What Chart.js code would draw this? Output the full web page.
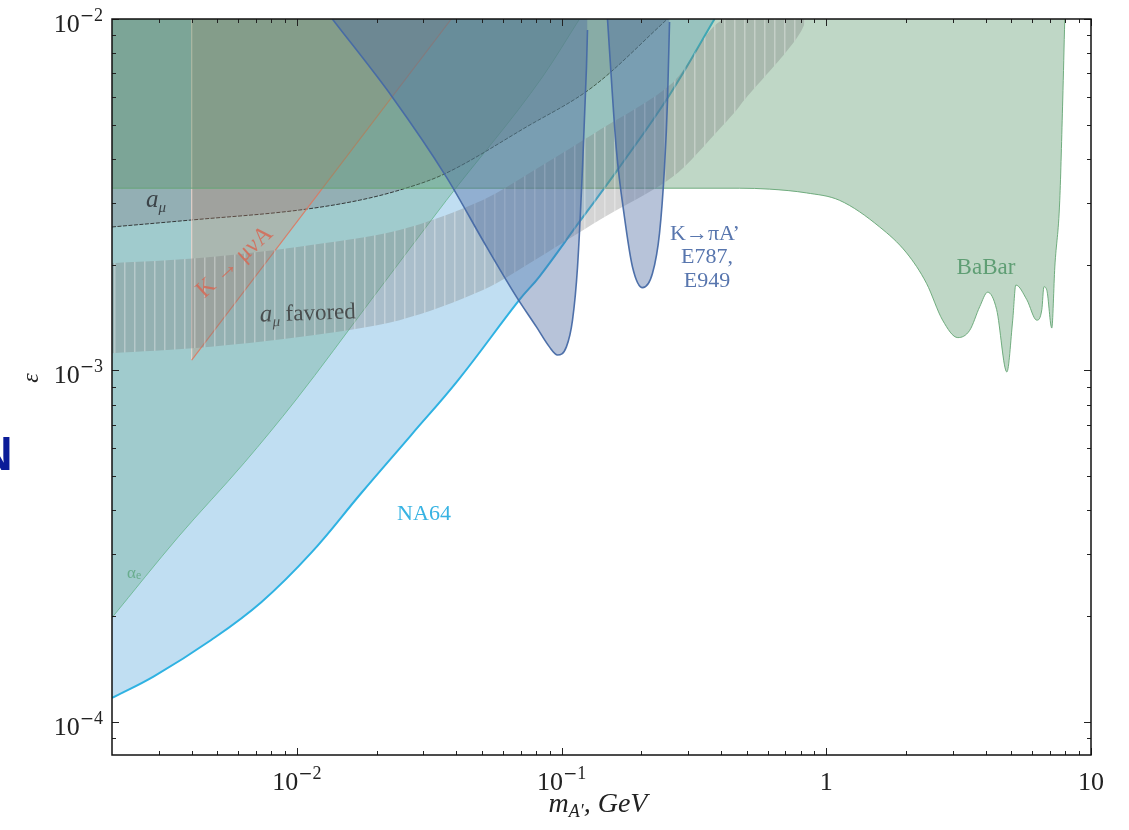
<!DOCTYPE html>
<html>
<head>
<meta charset="utf-8">
<script src="https://cdn.jsdelivr.net/npm/chart.js@4.4.1/dist/chart.umd.min.js"></script>
<style>
html, body { margin: 0; padding: 0; background: #fff; }
#wrap { width: 1129px; height: 830px; }
</style>
</head>
<body>
<div id="wrap"><canvas id="c" width="1129" height="830"></canvas></div>
<script>
// NA64 limit
const na64Mass = [0.002, 0.00289, 0.00474, 0.00733, 0.01133, 0.0175, 0.027, 0.0407, 0.0693, 0.0824, 0.1168, 0.1626, 0.2556, 0.378];
const na64Eps = [1.17e-4, 1.35e-4, 1.71e-4, 2.19e-4, 3.03e-4, 4.48e-4, 6.55e-4, 9.4e-4, 1.59e-3, 1.85e-3, 2.65e-3, 3.72e-3, 6.08e-3, 1.0e-2];

// a_e limit
const aeMass = [0.002, 0.00356, 0.00632, 0.0099, 0.0191, 0.0367, 0.0846, 0.1168];
const aeEps = [1.98e-4, 3.36e-4, 5.46e-4, 8.24e-4, 1.59e-3, 3.05e-3, 6.84e-3, 1.0e-2];

// BaBar limit
const babarMass = [0.002, 0.47, 0.611, 0.842, 1.12, 1.59, 2.01, 2.39, 2.75, 3.14, 3.48, 3.80, 4.07, 4.40, 4.81, 5.06, 5.20, 5.72, 6.24, 6.52, 6.64, 6.81, 7.11, 7.30, 7.62, 7.82, 7.96];
const babarEps = [3.3e-3, 3.3e-3, 3.28e-3, 3.2e-3, 3.05e-3, 2.56e-3, 2.16e-3, 1.77e-3, 1.39e-3, 1.24e-3, 1.30e-3, 1.52e-3, 1.67e-3, 1.49e-3, 9.9e-4, 1.39e-3, 1.75e-3, 1.59e-3, 1.39e-3, 1.49e-3, 1.73e-3, 1.69e-3, 1.32e-3, 1.97e-3, 3.05e-3, 5.88e-3, 1.0e-2];

// a_mu exclusion line
const amuMass = [0.002, 0.004, 0.0102, 0.0172, 0.0244, 0.0354, 0.0736, 0.1307, 0.251];
const amuEps = [2.56e-3, 2.68e-3, 2.86e-3, 3.05e-3, 3.26e-3, 3.60e-3, 4.93e-3, 6.40e-3, 1.0e-2];

// K -> mu nu A
const kmunuMass = [0.004, 0.004, 0.0383];
const kmunuEps = [1.0e-2, 1.07e-3, 1.0e-2];

// a_mu favored band (upper edge left->right, then lower edge right->left)
const favMass = [0.002, 0.00427, 0.0102, 0.0244, 0.0502, 0.0824, 0.139, 0.262, 0.41, 0.83, 0.47, 0.398, 0.262, 0.139, 0.0824, 0.0502, 0.0244, 0.0102, 0.00427, 0.002];
const favEps = [2.02e-3, 2.09e-3, 2.25e-3, 2.51e-3, 3.05e-3, 3.79e-3, 4.83e-3, 6.58e-3, 1.0e-2, 1.0e-2, 5.65e-3, 4.9e-3, 3.55e-3, 2.68e-3, 2.10e-3, 1.69e-3, 1.39e-3, 1.245e-3, 1.16e-3, 1.12e-3];

// K -> pi A' (E787, E949), two islands
const e787aMass = [0.0136, 0.0229, 0.0367, 0.052, 0.0675, 0.0803, 0.0899, 0.0964, 0.1042, 0.1099, 0.1148, 0.1199, 0.1241, 0.1252];
const e787aEps = [1.0e-2, 6.0e-3, 3.55e-3, 2.25e-3, 1.62e-3, 1.33e-3, 1.167e-3, 1.107e-3, 1.167e-3, 1.39e-3, 1.97e-3, 3.79e-3, 7.3e-3, 9.3e-3];
const e787bMass = [0.149, 0.1516, 0.161, 0.1727, 0.1852, 0.202, 0.2204, 0.2343, 0.2447, 0.2512, 0.2556];
const e787bEps = [1.0e-2, 8.16e-3, 4.24e-3, 2.73e-3, 1.97e-3, 1.72e-3, 1.89e-3, 2.46e-3, 3.79e-3, 5.88e-3, 9.8e-3];

// axes
const xMajor = [0.01, 0.1, 1, 10];
const xMajorLabels = [['10', '−2'], ['10', '−1'], ['1', ''], ['10', '']];
const yMajor = [1e-4, 1e-3, 1e-2];
const yMajorLabels = [['10', '−4'], ['10', '−3'], ['10', '−2']];

const SERIF = '"Liberation Serif", "DejaVu Serif", serif';
const WIDE = '"DejaVu Serif", serif';

function pts(xs, ys) {
    return xs.map((x, i) => ({ x: x, y: ys[i] }));
}

const canvas = document.getElementById('c');
const ctx = canvas.getContext('2d');

// hatch for a_mu favored band
function makeHatch() {
    const p = document.createElement('canvas');
    p.width = 10;
    p.height = 10;
    const g = p.getContext('2d');
    g.fillStyle = 'rgba(125,125,125,0.33)';
    g.fillRect(0, 0, 10, 10);
    g.fillStyle = 'rgba(255,255,255,0.32)';
    g.fillRect(4, 0, 1.5, 10);
    return ctx.createPattern(p, 'repeat');
}

// 富文本: parts = [[text, size, italic, dy, family]]
function fontOf(p) {
    return (p[2] ? 'italic ' : '') + p[1] + 'px ' + (p[4] || SERIF);
}
function drawRich(c, parts, x, y, align, color) {
    let w = 0;
    const ws = parts.map(p => {
        c.font = fontOf(p);
        const m = c.measureText(p[0]).width;
        w += m;
        return m;
    });
    let cx = align === 'center' ? x - w / 2 : (align === 'right' ? x - w : x);
    c.fillStyle = color;
    c.textAlign = 'left';
    c.textBaseline = 'alphabetic';
    parts.forEach((p, i) => {
        c.font = fontOf(p);
        c.fillText(p[0], cx, y + (p[3] || 0));
        cx += ws[i];
    });
}
function tickParts(l) {
    const parts = [[l[0], 26, false, 0]];
    if (l[1]) {
        parts.push([l[1].charAt(0), 17, false, -11, WIDE]);
        parts.push([l[1].slice(1), 18, false, -11]);
    }
    return parts;
}

const frame = {
    id: 'frame',
    beforeDraw(chart) {
        const c = chart.ctx;
        c.save();
        c.fillStyle = '#fff';
        c.fillRect(0, 0, chart.width, chart.height);
        c.restore();
    },
    afterDraw(chart) {
        const c = chart.ctx;
        const a = chart.chartArea;
        const xs = chart.scales.x;
        const ys = chart.scales.y;
        c.save();

        // ticks (inward, all four sides)
        c.strokeStyle = '#222';
        c.lineWidth = 1;
        const xTick = (v, len) => {
            const px = Math.round(xs.getPixelForValue(v)) + 0.5;
            c.beginPath();
            c.moveTo(px, a.bottom); c.lineTo(px, a.bottom - len);
            c.moveTo(px, a.top); c.lineTo(px, a.top + len);
            c.stroke();
        };
        const yTick = (v, len) => {
            const py = Math.round(ys.getPixelForValue(v)) + 0.5;
            c.beginPath();
            c.moveTo(a.left, py); c.lineTo(a.left + len, py);
            c.moveTo(a.right, py); c.lineTo(a.right - len, py);
            c.stroke();
        };
        [0.001, 0.01, 0.1, 1].forEach(d => {
            for (let k = 2; k <= 9; k++) {
                const v = k * d;
                if (v > 0.002 && v < 10) xTick(v, 4);
            }
        });
        xMajor.forEach(v => xTick(v, 7));
        [1e-5, 1e-4, 1e-3].forEach(d => {
            for (let k = 2; k <= 9; k++) {
                const v = k * d;
                if (v > 8.05e-5 && v < 1e-2) yTick(v, 4);
            }
        });
        yMajor.forEach(v => yTick(v, 7));

        // frame
        c.strokeStyle = '#111';
        c.lineWidth = 1.5;
        c.strokeRect(a.left, a.top, a.right - a.left, a.bottom - a.top);

        // tick labels
        xMajor.forEach((v, i) => {
            const px = xs.getPixelForValue(v);
            drawRich(c, tickParts(xMajorLabels[i]), px, 790, 'center', '#222');
        });
        yMajor.forEach((v, i) => {
            const py = ys.getPixelForValue(v);
            drawRich(c, tickParts(yMajorLabels[i]), 103, py + 13, 'right', '#222');
        });

        // axis titles
        drawRich(c, [['m', 28, true, 0], ['A\u2032', 18, true, 5], [', GeV', 28, true, 0]], 598, 812, 'center', '#222');
        c.save();
        c.translate(38, 378);
        c.rotate(-Math.PI / 2);
        drawRich(c, [['ε', 24, true, 0]], 0, 0, 'center', '#222');
        c.restore();

        // region labels
        drawRich(c, [['a', 25, true, 0], ['μ', 15, true, 5]], 146, 207, 'left', 'rgba(50,55,60,0.9)');
        c.save();
        c.translate(308, 320);
        c.rotate(-0.035);
        drawRich(c, [['a', 25, true, 0], ['μ', 15, true, 5], [' favored', 23, false, 0]], 0, 0, 'center', 'rgba(60,60,60,0.85)');
        c.restore();
        c.save();
        c.translate(239, 267);
        c.rotate(-0.74);
        drawRich(c, [['K → μνA', 24, false, 0]], 0, 0, 'center', 'rgba(214,105,85,0.85)');
        c.restore();
        drawRich(c, [['NA64', 22, false, 0]], 424, 520, 'center', '#37b3e3');
        drawRich(c, [['K→πA\u2019', 22, false, 0]], 705, 240, 'center', '#5876ae');
        drawRich(c, [['E787,', 22, false, 0]], 707, 263, 'center', '#5876ae');
        drawRich(c, [['E949', 22, false, 0]], 707, 287, 'center', '#5876ae');
        drawRich(c, [['BaBar', 23, false, 0]], 986, 274, 'center', '#5f9e74');
        drawRich(c, [['α', 17, false, 0], ['e', 12, false, 1]], 127, 578, 'left', 'rgba(90,165,125,0.8)');

        // 页面边缘残留的字母
        c.font = 'bold 48px "Liberation Sans", sans-serif';
        c.fillStyle = '#0b1c98';
        c.textAlign = 'left';
        c.fillText('N', -22, 470);
        c.restore();
    }
};

const hatch = makeHatch();

const base = { showLine: true, pointRadius: 0, pointHoverRadius: 0 };

new Chart(ctx, {
    type: 'scatter',
    data: {
        datasets: [
            Object.assign({}, base, {
                label: 'E787b', order: 1, data: pts(e787bMass, e787bEps),
                fill: 'end', backgroundColor: 'rgba(75,105,160,0.40)',
                borderColor: 'rgba(70,105,165,0.95)', borderWidth: 1.6,
                cubicInterpolationMode: 'monotone'
            }),
            Object.assign({}, base, {
                label: 'E787a', order: 2, data: pts(e787aMass, e787aEps),
                fill: 'end', backgroundColor: 'rgba(75,105,160,0.40)',
                borderColor: 'rgba(70,105,165,0.95)', borderWidth: 1.6,
                cubicInterpolationMode: 'monotone'
            }),
            Object.assign({}, base, {
                label: 'favored', order: 3, data: pts(favMass, favEps),
                fill: 'shape', backgroundColor: hatch,
                borderColor: 'rgba(0,0,0,0)', borderWidth: 0, tension: 0.3
            }),
            Object.assign({}, base, {
                label: 'BaBar', order: 4, data: pts(babarMass, babarEps),
                fill: 'end', backgroundColor: 'rgba(86,150,105,0.38)',
                borderColor: 'rgba(100,165,115,0.9)', borderWidth: 1,
                cubicInterpolationMode: 'monotone'
            }),
            Object.assign({}, base, {
                label: 'Kmunu', order: 5, data: pts(kmunuMass, kmunuEps),
                fill: 'end', backgroundColor: 'rgba(200,125,90,0.25)',
                borderColor: 'rgba(222,120,95,0.9)', borderWidth: 1.2, tension: 0,
                segment: {
                    borderColor: s => s.p0DataIndex === 0 ? 'rgba(245,215,205,0.8)' : 'rgba(222,120,95,0.9)'
                }
            }),
            Object.assign({}, base, {
                label: 'amu', order: 6, data: pts(amuMass, amuEps),
                fill: 'end', backgroundColor: 'rgba(125,128,140,0.38)',
                borderColor: 'rgba(35,35,35,0.85)', borderWidth: 1, borderDash: [4, 1.5],
                cubicInterpolationMode: 'monotone'
            }),
            Object.assign({}, base, {
                label: 'ae', order: 7, data: pts(aeMass, aeEps),
                fill: 'end', backgroundColor: 'rgba(112,175,150,0.40)',
                borderColor: 'rgba(110,185,150,0.9)', borderWidth: 1,
                cubicInterpolationMode: 'monotone'
            }),
            Object.assign({}, base, {
                label: 'NA64', order: 8, data: pts(na64Mass, na64Eps),
                fill: 'end', backgroundColor: 'rgba(130,190,230,0.5)',
                borderColor: '#2fb2e2', borderWidth: 2,
                tension: 0.4
            })
        ]
    },
    options: {
        responsive: false,
        animation: false,
        devicePixelRatio: 1,
        layout: { padding: { left: 112, right: 38, top: 19, bottom: 75 } },
        plugins: { legend: { display: false }, tooltip: { enabled: false } },
        scales: {
            x: { type: 'logarithmic', min: 0.002, max: 10, display: false },
            y: { type: 'logarithmic', min: 8.05e-5, max: 1e-2, display: false }
        }
    },
    plugins: [frame]
});
</script>
</body>
</html>
